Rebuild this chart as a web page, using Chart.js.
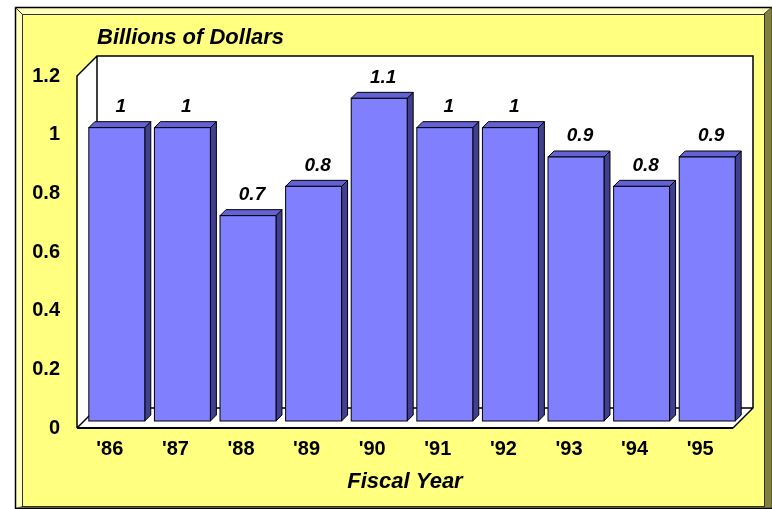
<!DOCTYPE html>
<html>
<head>
<meta charset="utf-8">
<script src="https://cdn.jsdelivr.net/npm/chart.js@4.4.0/dist/chart.umd.min.js"></script>
<style>
  html, body { margin: 0; padding: 0; background: #fff; }
  #wrap { width: 772px; height: 509px; position: relative; }
</style>
</head>
<body>
<div id="wrap"><canvas id="barChart"></canvas></div>
<script>
const categories = ["'86", "'87", "'88", "'89", "'90", "'91", "'92", "'93", "'94", "'95"];
const values = [1, 1, 0.7, 0.8, 1.1, 1, 1, 0.9, 0.8, 0.9];
const yTickLabels = ["0", "0.2", "0.4", "0.6", "0.8", "1", "1.2"];
const yTitle = "Billions of Dollars";
const xTitle = "Fiscal Year";

const FONT = "'Liberation Sans', Arial, sans-serif";
const DEPTH = 20;     // depth of the floor / walls
const BAR_SHIFT = 7;  // bars sit a bit behind the front plane
const BAR_D = 6;      // bar thickness

// yellow bevelled panel behind everything
const framePlugin = {
  id: "frame",
  beforeDraw(chart) {
    const ctx = chart.ctx;
    const L = 15, T = 7, R = 772, B = 508;
    const il = 22, it = 14, ir = 764, ib = 506;
    ctx.save();
    ctx.fillStyle = "#ffff80";
    ctx.fillRect(il, it, ir - il, ib - it);
    // light bevel top + left
    ctx.fillStyle = "#ffffc0";
    ctx.beginPath();
    ctx.moveTo(L, T); ctx.lineTo(R, T); ctx.lineTo(ir, it); ctx.lineTo(il, it);
    ctx.lineTo(il, ib); ctx.lineTo(L, B); ctx.closePath(); ctx.fill();
    // dark bevel right + bottom
    ctx.fillStyle = "#808040";
    ctx.beginPath();
    ctx.moveTo(R, T); ctx.lineTo(R, B); ctx.lineTo(L, B); ctx.lineTo(il, ib);
    ctx.lineTo(ir, ib); ctx.lineTo(ir, it); ctx.closePath(); ctx.fill();
    ctx.strokeStyle = "#000";
    ctx.lineWidth = 1.5;
    ctx.strokeRect(L + 0.5, T + 0.5, R - L, B - T);
    ctx.lineWidth = 1;
    ctx.strokeStyle = "#303018";
    ctx.strokeRect(il + 0.5, it + 0.5, ir - il, ib - it);
    ctx.beginPath();
    ctx.moveTo(L, T); ctx.lineTo(il, it);
    ctx.moveTo(R, T); ctx.lineTo(ir, it);
    ctx.stroke();

    // title of the value axis
    ctx.fillStyle = "#000";
    ctx.font = "italic bold 22px " + FONT;
    ctx.textBaseline = "middle";
    ctx.textAlign = "left";
    ctx.fillText(yTitle, 97, 38);
    ctx.restore();
  }
};

// 3D back wall, side wall and floor
const wallsPlugin = {
  id: "walls",
  beforeDatasetsDraw(chart) {
    const ctx = chart.ctx;
    const a = chart.chartArea;
    const d = DEPTH;
    ctx.save();
    ctx.fillStyle = "#fff";
    ctx.beginPath();
    ctx.moveTo(a.left, a.top);
    ctx.lineTo(a.left + d, a.top - d);
    ctx.lineTo(a.right + d, a.top - d);
    ctx.lineTo(a.right + d, a.bottom - d);
    ctx.lineTo(a.right, a.bottom);
    ctx.lineTo(a.left, a.bottom);
    ctx.closePath();
    ctx.fill();

    ctx.strokeStyle = "#000";
    ctx.lineWidth = 1.5;
    ctx.beginPath();
    ctx.moveTo(a.left, a.bottom);
    ctx.lineTo(a.left, a.top);
    ctx.lineTo(a.left + d, a.top - d);
    ctx.lineTo(a.right + d, a.top - d);
    ctx.lineTo(a.right + d, a.bottom - d);
    ctx.lineTo(a.right, a.bottom);
    ctx.moveTo(a.left + d, a.top - d);
    ctx.lineTo(a.left + d, a.bottom - d);
    ctx.lineTo(a.right + d, a.bottom - d);
    ctx.moveTo(a.left, a.bottom);
    ctx.lineTo(a.left + d, a.bottom - d);
    ctx.stroke();
    ctx.lineWidth = 2;
    ctx.beginPath();
    ctx.moveTo(a.left, a.bottom);
    ctx.lineTo(a.right, a.bottom);
    ctx.stroke();
    ctx.restore();
  }
};

// bars as boxes, plus value labels
const barsPlugin = {
  id: "bars3d",
  afterDatasetsDraw(chart) {
    const ctx = chart.ctx;
    const meta = chart.getDatasetMeta(0);
    const d = BAR_D;
    ctx.save();
    ctx.lineWidth = 1;
    ctx.strokeStyle = "#000";
    meta.data.forEach((bar, i) => {
      const p = bar.getProps(["x", "y", "base", "width"], true);
      const xl = p.x - p.width / 2 + BAR_SHIFT;
      const xr = p.x + p.width / 2 + BAR_SHIFT;
      const yt = p.y - BAR_SHIFT;
      const yb = p.base - BAR_SHIFT;
      // side
      ctx.fillStyle = "#404090";
      ctx.beginPath();
      ctx.moveTo(xr, yt); ctx.lineTo(xr + d, yt - d); ctx.lineTo(xr + d, yb - d); ctx.lineTo(xr, yb);
      ctx.closePath(); ctx.fill(); ctx.stroke();
      // top
      ctx.fillStyle = "#6262d4";
      ctx.beginPath();
      ctx.moveTo(xl, yt); ctx.lineTo(xl + d, yt - d); ctx.lineTo(xr + d, yt - d); ctx.lineTo(xr, yt);
      ctx.closePath(); ctx.fill(); ctx.stroke();
      // front
      ctx.fillStyle = "#8080ff";
      ctx.fillRect(xl, yt, xr - xl, yb - yt);
      ctx.strokeRect(xl, yt, xr - xl, yb - yt);

      ctx.fillStyle = "#000";
      ctx.font = "italic bold 19px " + FONT;
      ctx.textAlign = "center";
      ctx.textBaseline = "middle";
      ctx.fillText(String(values[i]), (xl + xr) / 2 + 4, yt - 21);
    });
    ctx.restore();
  }
};

new Chart(document.getElementById("barChart"), {
  type: "bar",
  data: {
    labels: categories,
    datasets: [{
      label: yTitle,
      data: values,
      backgroundColor: "rgba(0,0,0,0)",
      borderWidth: 0,
      categoryPercentage: 1,
      barPercentage: 0.853
    }]
  },
  options: {
    responsive: true,
    maintainAspectRatio: false,
    animation: false,
    layout: { padding: { top: 76, right: 39, bottom: 0, left: 0 } },
    plugins: {
      legend: { display: false },
      tooltip: { enabled: false }
    },
    scales: {
      x: {
        grid: { display: false, drawTicks: false },
        border: { display: false },
        ticks: {
          color: "#000",
          padding: 9,
          font: { family: FONT, size: 20, weight: "bold" }
        },
        title: {
          display: true,
          text: xTitle,
          color: "#000",
          padding: { top: 0, bottom: 14 },
          font: { family: FONT, size: 22, weight: "bold", style: "italic" }
        },
        afterFit(s) { s.height = 81; }
      },
      y: {
        min: 0,
        max: 1.2,
        grid: { display: false, drawTicks: false },
        border: { display: false },
        ticks: {
          stepSize: 0.2,
          color: "#000",
          padding: 17,
          font: { family: FONT, size: 20, weight: "bold" },
          callback: (v, i) => yTickLabels[i]
        },
        afterFit(s) { s.width = 77; }
      }
    }
  },
  plugins: [framePlugin, wallsPlugin, barsPlugin]
});
</script>
</body>
</html>
